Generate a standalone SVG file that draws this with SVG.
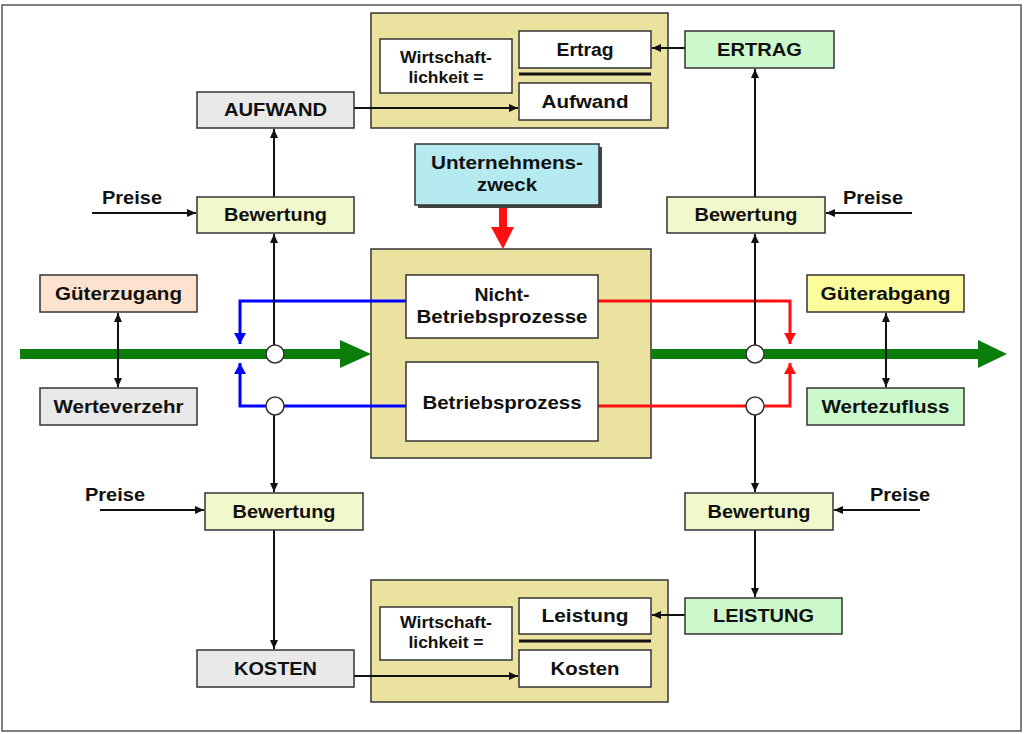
<svg xmlns="http://www.w3.org/2000/svg" width="1024" height="734" viewBox="0 0 1024 734">
<style>
text{font-family:"Liberation Sans",Arial,sans-serif;font-weight:bold;fill:#111;text-anchor:middle}
.t{font-size:18px}
.s{font-size:16.5px}
.box{stroke:#333;stroke-width:1.5}
.gray{fill:#e9e9e9}
.bew{fill:#f1f9cc}
.grn{fill:#ccf9cc}
.wht{fill:#fff}
.khaki{fill:#eae29e}
.ln{stroke:#111;stroke-width:2;fill:none}
.blue{stroke:#0000ff;stroke-width:3;fill:none}
.red{stroke:#ff1010;stroke-width:3;fill:none}
.circ{fill:#fff;stroke:#333;stroke-width:1.5}
</style>
<defs>
<marker id="ah" markerUnits="userSpaceOnUse" markerWidth="9" markerHeight="8" refX="9" refY="4" orient="auto-start-reverse"><path d="M0,0 L9,4 L0,8 z" fill="#111"/></marker>
<marker id="ahb" markerUnits="userSpaceOnUse" markerWidth="11" markerHeight="12" refX="11" refY="6" orient="auto"><path d="M0,0 L11,6 L0,12 z" fill="#0000ff"/></marker>
<marker id="ahr" markerUnits="userSpaceOnUse" markerWidth="11" markerHeight="12" refX="11" refY="6" orient="auto"><path d="M0,0 L11,6 L0,12 z" fill="#ff1010"/></marker>
</defs>
<rect x="0" y="0" width="1024" height="734" fill="#fff"/>
<rect x="2" y="5" width="1019" height="726" fill="#fff" stroke="#555" stroke-width="1.5"/>

<!-- containers -->
<g id="top-ratio">
<rect class="box khaki" x="371" y="13" width="297" height="115"/>
<rect class="box wht" x="380" y="39" width="132" height="54"/>
<text class="s" x="446" y="62.5" textLength="92" lengthAdjust="spacingAndGlyphs">Wirtschaft-</text>
<text class="s" x="446" y="82.5" textLength="75" lengthAdjust="spacingAndGlyphs">lichkeit =</text>
<rect class="box wht" x="519" y="31" width="132" height="37"/>
<text class="t" x="585" y="56" textLength="57" lengthAdjust="spacingAndGlyphs">Ertrag</text>
<line x1="519" y1="74" x2="651" y2="74" stroke="#111" stroke-width="3"/>
<rect class="box wht" x="519" y="83" width="132" height="37"/>
<text class="t" x="585" y="108" textLength="87" lengthAdjust="spacingAndGlyphs">Aufwand</text>
</g>

<g id="bottom-ratio">
<rect class="box khaki" x="371" y="580" width="297" height="122"/>
<rect class="box wht" x="380" y="607" width="132" height="53"/>
<text class="s" x="446" y="628" textLength="92" lengthAdjust="spacingAndGlyphs">Wirtschaft-</text>
<text class="s" x="446" y="648" textLength="75" lengthAdjust="spacingAndGlyphs">lichkeit =</text>
<rect class="box wht" x="519" y="598" width="132" height="36"/>
<text class="t" x="585" y="622" textLength="87" lengthAdjust="spacingAndGlyphs">Leistung</text>
<line x1="519" y1="641" x2="651" y2="641" stroke="#111" stroke-width="3"/>
<rect class="box wht" x="519" y="650" width="132" height="37"/>
<text class="t" x="585" y="675" textLength="69" lengthAdjust="spacingAndGlyphs">Kosten</text>
</g>

<g id="center">
<rect class="box khaki" x="371" y="249" width="280" height="209"/>
</g>

<!-- connectors -->
<g id="connectors">
<line x1="20" y1="354" x2="342" y2="354" stroke="#0a7d0a" stroke-width="10"/>
<polygon points="340,340 371,354 340,368" fill="#0a7d0a"/>
<line x1="651" y1="354" x2="980" y2="354" stroke="#0a7d0a" stroke-width="10"/>
<polygon points="978,340 1007,354 978,368" fill="#0a7d0a"/>

<rect x="499" y="205" width="8" height="23" fill="#ff1010"/>
<polygon points="491,227 514,227 503,249" fill="#ff1010"/>

<path class="blue" d="M406,301 H240 V344" marker-end="url(#ahb)"/>
<path class="blue" d="M406,406 H240 V363" marker-end="url(#ahb)"/>
<path class="red" d="M598,301 H790 V344" marker-end="url(#ahr)"/>
<path class="red" d="M598,406 H790 V363" marker-end="url(#ahr)"/>

<line class="ln" x1="274" y1="345" x2="274" y2="234" marker-end="url(#ah)"/>
<line class="ln" x1="274" y1="197" x2="274" y2="129" marker-end="url(#ah)"/>
<line class="ln" x1="274" y1="415" x2="274" y2="492" marker-end="url(#ah)"/>
<line class="ln" x1="274" y1="530" x2="274" y2="649" marker-end="url(#ah)"/>
<line class="ln" x1="755" y1="345" x2="755" y2="234" marker-end="url(#ah)"/>
<line class="ln" x1="755" y1="197" x2="755" y2="69" marker-end="url(#ah)"/>
<line class="ln" x1="755" y1="415" x2="755" y2="492" marker-end="url(#ah)"/>
<line class="ln" x1="755" y1="530" x2="755" y2="597" marker-end="url(#ah)"/>

<line class="ln" x1="354" y1="108" x2="518" y2="108" marker-end="url(#ah)"/>
<line class="ln" x1="685" y1="48" x2="652" y2="48" marker-end="url(#ah)"/>
<line class="ln" x1="354" y1="676" x2="518" y2="676" marker-end="url(#ah)"/>
<line class="ln" x1="685" y1="615" x2="652" y2="615" marker-end="url(#ah)"/>

<line class="ln" x1="92" y1="213" x2="196" y2="213" marker-end="url(#ah)"/>
<line class="ln" x1="100" y1="510" x2="204" y2="510" marker-end="url(#ah)"/>
<line class="ln" x1="912" y1="213" x2="826" y2="213" marker-end="url(#ah)"/>
<line class="ln" x1="920" y1="510" x2="834" y2="510" marker-end="url(#ah)"/>

<line class="ln" x1="118" y1="313" x2="118" y2="387" marker-start="url(#ah)" marker-end="url(#ah)"/>
<line class="ln" x1="886" y1="313" x2="886" y2="387" marker-start="url(#ah)" marker-end="url(#ah)"/>

<circle class="circ" cx="275" cy="354" r="9"/>
<circle class="circ" cx="275" cy="406" r="9"/>
<circle class="circ" cx="755" cy="354" r="9"/>
<circle class="circ" cx="755" cy="406" r="9"/>
</g>

<text class="t" x="132" y="204" textLength="60" lengthAdjust="spacingAndGlyphs">Preise</text>
<text class="t" x="115" y="501" textLength="60" lengthAdjust="spacingAndGlyphs">Preise</text>
<text class="t" x="873" y="204" textLength="60" lengthAdjust="spacingAndGlyphs">Preise</text>
<text class="t" x="900" y="501" textLength="60" lengthAdjust="spacingAndGlyphs">Preise</text>

<g id="nicht-betrieb">
<rect class="box wht" x="406" y="275" width="192" height="63"/>
<text class="t" x="502" y="301" textLength="55" lengthAdjust="spacingAndGlyphs">Nicht-</text>
<text class="t" x="502" y="323" textLength="171" lengthAdjust="spacingAndGlyphs">Betriebsprozesse</text>
</g>
<g id="betrieb">
<rect class="box wht" x="406" y="362" width="192" height="79"/>
<text class="t" x="502" y="409" textLength="159" lengthAdjust="spacingAndGlyphs">Betriebsprozess</text>
</g>
<g id="zweck">
<rect x="418" y="147" width="184" height="61" fill="#444"/>
<rect class="box" x="415" y="144" width="184" height="61" fill="#b4eaf0"/>
<text class="t" x="507" y="169" textLength="152" lengthAdjust="spacingAndGlyphs">Unternehmens-</text>
<text class="t" x="507" y="191" textLength="60" lengthAdjust="spacingAndGlyphs">zweck</text>
</g>
<g id="aufwand">
<rect class="box gray" x="197" y="92" width="157" height="36"/>
<text class="t" x="275.5" y="116" textLength="103" lengthAdjust="spacingAndGlyphs">AUFWAND</text>
</g>
<g id="bew-tl">
<rect class="box bew" x="197" y="197" width="157" height="36"/>
<text class="t" x="275.5" y="221" textLength="103" lengthAdjust="spacingAndGlyphs">Bewertung</text>
</g>
<g id="gueterzugang">
<rect class="box" x="40" y="275" width="157" height="37" fill="#fde3cf"/>
<text class="t" x="118.5" y="300" textLength="127" lengthAdjust="spacingAndGlyphs">Güterzugang</text>
</g>
<g id="werteverzehr">
<rect class="box gray" x="40" y="388" width="157" height="37"/>
<text class="t" x="118.5" y="413" textLength="130" lengthAdjust="spacingAndGlyphs">Werteverzehr</text>
</g>
<g id="bew-bl">
<rect class="box bew" x="205" y="493" width="158" height="37"/>
<text class="t" x="284" y="518" textLength="103" lengthAdjust="spacingAndGlyphs">Bewertung</text>
</g>
<g id="kosten">
<rect class="box gray" x="197" y="650" width="157" height="37"/>
<text class="t" x="275.5" y="675" textLength="83" lengthAdjust="spacingAndGlyphs">KOSTEN</text>
</g>
<g id="ertrag">
<rect class="box grn" x="685" y="31" width="149" height="37"/>
<text class="t" x="759.5" y="56" textLength="85" lengthAdjust="spacingAndGlyphs">ERTRAG</text>
</g>
<g id="bew-tr">
<rect class="box bew" x="667" y="197" width="158" height="36"/>
<text class="t" x="746" y="221" textLength="103" lengthAdjust="spacingAndGlyphs">Bewertung</text>
</g>
<g id="gueterabgang">
<rect class="box" x="807" y="275" width="157" height="37" fill="#fdfc9c"/>
<text class="t" x="885.5" y="300" textLength="130" lengthAdjust="spacingAndGlyphs">Güterabgang</text>
</g>
<g id="wertezufluss">
<rect class="box grn" x="807" y="388" width="157" height="37"/>
<text class="t" x="885.5" y="413" textLength="128" lengthAdjust="spacingAndGlyphs">Wertezufluss</text>
</g>
<g id="bew-br">
<rect class="box bew" x="685" y="493" width="148" height="37"/>
<text class="t" x="759" y="518" textLength="103" lengthAdjust="spacingAndGlyphs">Bewertung</text>
</g>
<g id="leistung">
<rect class="box grn" x="685" y="598" width="157" height="36"/>
<text class="t" x="763.5" y="622" textLength="101" lengthAdjust="spacingAndGlyphs">LEISTUNG</text>
</g>
</svg>
